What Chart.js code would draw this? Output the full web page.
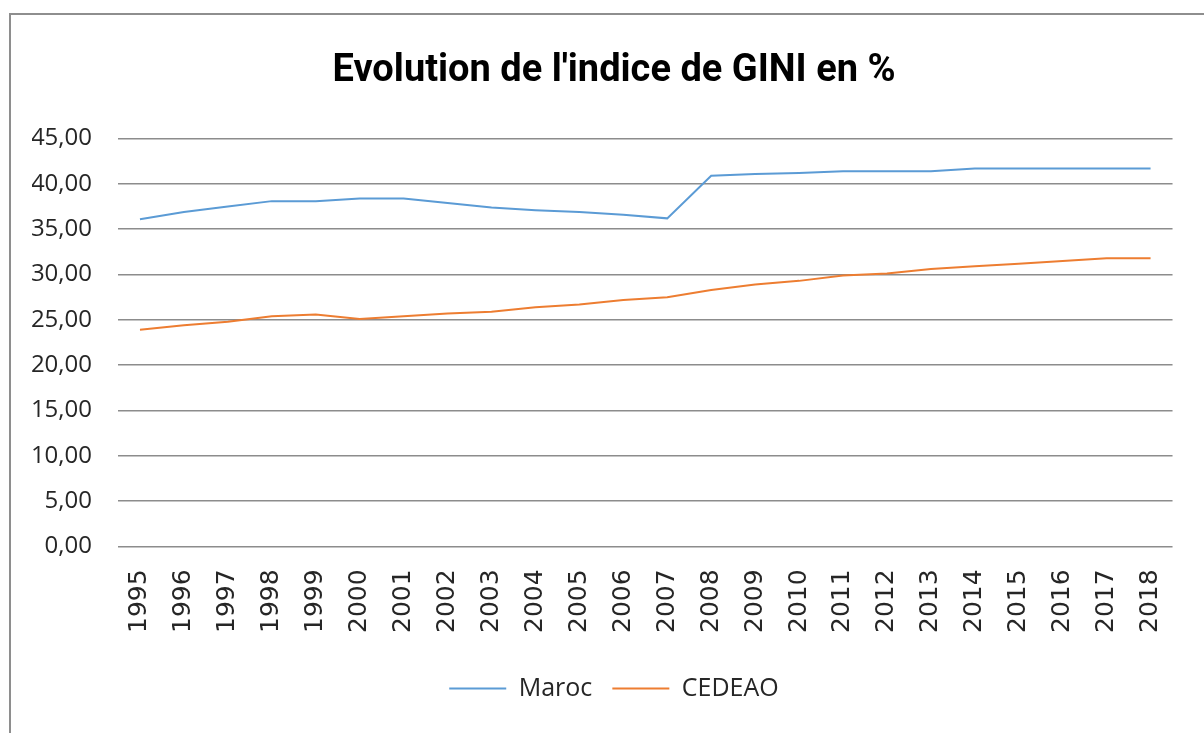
<!DOCTYPE html>
<html>
<head>
<meta charset="utf-8">
<script src="https://cdn.jsdelivr.net/npm/chart.js@4"></script>
<style>
    html, body { margin: 0; padding: 0; background: #fff; overflow: hidden; }
    #wrap { position: relative; width: 1204px; height: 733px; }
    /* frame of the chart area, runs out past the right and bottom edges */
    #frame {
        position: absolute; left: 9px; top: 13px;
        width: 1300px; height: 800px;
        border: 2px solid #8e8e8e;
    }
    canvas { position: absolute; left: 0; top: 0; }
</style>
</head>
<body>
<div id="wrap">
    <div id="frame"></div>
    <canvas id="chart" width="1204" height="733"></canvas>
</div>
<script>
// --- Data ---------------------------------------------------------------------
const years = ['1995', '1996', '1997', '1998', '1999', '2000', '2001', '2002', '2003', '2004', '2005', '2006',
    '2007', '2008', '2009', '2010', '2011', '2012', '2013', '2014', '2015', '2016', '2017', '2018']

const maroc = [36.1, 36.9, 37.5, 38.1, 38.1, 38.4, 38.4, 37.9, 37.4, 37.1, 36.9, 36.6,
    36.2, 40.9, 41.1, 41.2, 41.4, 41.4, 41.4, 41.7, 41.7, 41.7, 41.7, 41.7]

const cedeao = [23.9, 24.4, 24.8, 25.4, 25.6, 25.1, 25.4, 25.7, 25.9, 26.4, 26.7, 27.2,
    27.5, 28.3, 28.9, 29.3, 29.9, 30.1, 30.6, 30.9, 31.2, 31.5, 31.8, 31.8]

const seriesNames = ['Maroc', 'CEDEAO']
const yTicks = [0, 5, 10, 15, 20, 25, 30, 35, 40, 45]

// --- Chart --------------------------------------------------------------------
const textColor = '#262626'
const gridColor = '#8c8c8c'

function formatTick(value) {
    // French style decimal: 45,00
    return Number(value).toFixed(2).replace('.', ',')
}

new Chart(document.getElementById('chart'), {
    type: 'line',
    data: {
        labels: years,
        datasets: [{
            label: seriesNames[0],
            data: maroc,
            borderColor: '#5b9bd5',
            backgroundColor: '#5b9bd5',
            borderWidth: 2,
            pointRadius: 0,
            tension: 0
        }, {
            label: seriesNames[1],
            data: cedeao,
            borderColor: '#ed7d31',
            backgroundColor: '#ed7d31',
            borderWidth: 2,
            pointRadius: 0,
            tension: 0
        }]
    },
    options: {
        responsive: false,
        animation: false,
        layout: {
            // title and legend sit a bit right of the canvas centre
            padding: { left: 32, right: 8, top: 0, bottom: 22 }
        },
        plugins: {
            title: {
                display: true,
                text: "Evolution de l'indice de GINI en %",
                color: '#000',
                font: { family: 'Roboto', size: 38, weight: 'bold' },
                padding: { top: 49, bottom: 44 }
            },
            legend: {
                display: true,
                position: 'bottom',
                labels: {
                    color: textColor,
                    font: { family: 'Open Sans', size: 25 },
                    usePointStyle: true,
                    pointStyle: 'line',
                    pointStyleWidth: 57,
                    padding: 20
                }
            },
            tooltip: { enabled: false }
        },
        scales: {
            x: {
                offset: true,
                grid: { display: false, drawTicks: false },
                border: { display: false },
                ticks: {
                    color: textColor,
                    font: { family: 'DejaVu Sans', size: 25 },
                    minRotation: 90,
                    maxRotation: 90,
                    autoSkip: false,
                    padding: 23
                }
            },
            y: {
                min: 0,
                max: 45,
                afterBuildTicks: function(scale) {
                    scale.ticks = yTicks.map(v => ({ value: v }))
                },
                afterFit: function(scale) {
                    scale.width = 86
                },
                grid: { color: gridColor, lineWidth: 1.6, drawTicks: false },
                border: { display: false },
                ticks: {
                    color: textColor,
                    font: { family: 'Open Sans', size: 24 },
                    padding: 26,
                    callback: formatTick
                }
            },
            // empty spacer on the right so the plot ends where the reference does
            spacer: {
                type: 'linear',
                position: 'right',
                grid: { display: false, drawTicks: false },
                border: { display: false },
                ticks: { display: false },
                afterFit: function(scale) {
                    scale.width = 13
                }
            }
        }
    }
})
</script>
</body>
</html>
